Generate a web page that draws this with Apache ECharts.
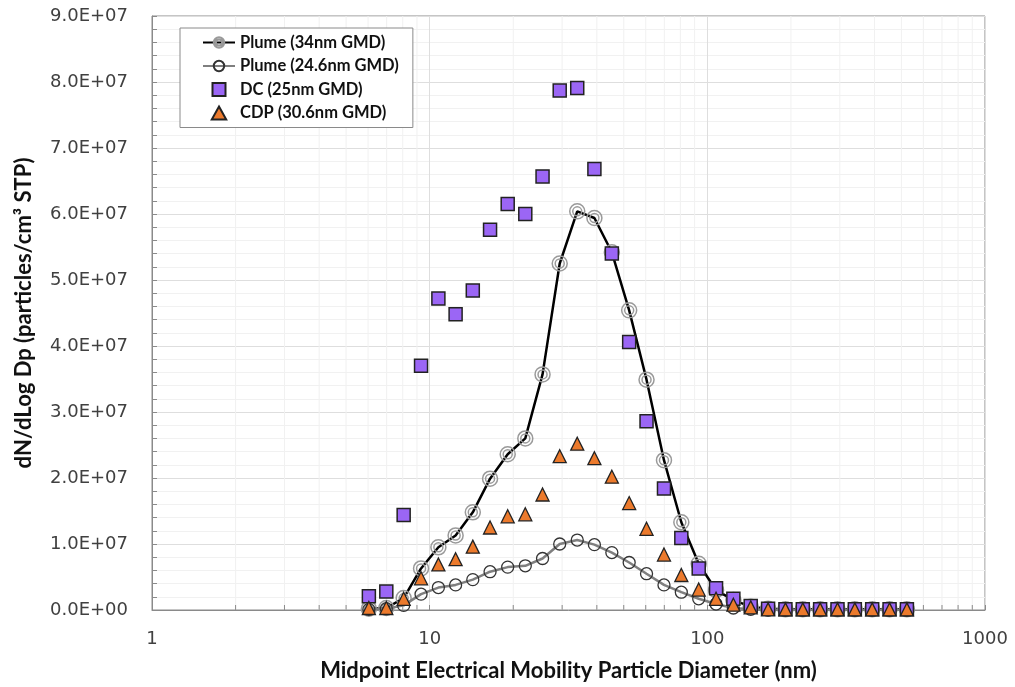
<!DOCTYPE html>
<html>
<head>
<meta charset="utf-8">
<title>Particle size distribution</title>
<script src="https://cdn.jsdelivr.net/npm/echarts@6/dist/echarts.min.js"></script>
<style>
    html, body { margin: 0; padding: 0; background: #fff; }
    #main { width: 1015px; height: 687px; }
</style>
</head>
<body>
<div id="main"></div>
<script>
// bin midpoints (nm)
var diameters = [6.04, 6.98, 8.06, 9.31, 10.75, 12.4, 14.3, 16.5, 19.1, 22.1, 25.5, 29.4, 34.0, 39.2, 45.3, 52.3,
    60.4, 69.8, 80.6, 93.1, 107.5, 124.1, 143.3, 165.5, 191.1, 220.7, 254.8, 294.3, 339.8, 392.4, 453.2, 523.3];

// dN/dLogDp values
var plume34 = [2e5, 3e5, 1.8e6, 6.3e6, 9.5e6, 1.13e7, 1.48e7, 1.99e7, 2.36e7, 2.60e7, 3.57e7, 5.25e7, 6.04e7, 5.94e7, 5.42e7, 4.54e7,
    3.49e7, 2.27e7, 1.33e7, 7.0e6, 3.0e6, 1.5e6, 5e5, 2e5, 1e5, 1e5, 1e5, 1e5, 1e5, 1e5, 1e5, 1e5];
var plume246 = [1e5, 2e5, 7e5, 2.4e6, 3.4e6, 3.8e6, 4.6e6, 5.8e6, 6.5e6, 6.7e6, 7.8e6, 1.00e7, 1.06e7, 9.9e6, 8.7e6, 7.2e6,
    5.5e6, 3.8e6, 2.7e6, 1.7e6, 9e5, 3e5, 1e5, 0, 0, 0, 0, 0, 0, 0, 0, 0];
var dc = [2.1e6, 2.8e6, 1.44e7, 3.70e7, 4.72e7, 4.48e7, 4.84e7, 5.76e7, 6.15e7, 6.00e7, 6.57e7, 7.87e7, 7.91e7, 6.68e7, 5.40e7, 4.06e7,
    2.86e7, 1.84e7, 1.09e7, 6.3e6, 3.3e6, 1.7e6, 6e5, 2e5, 1e5, 1e5, 1e5, 1e5, 1e5, 1e5, 1e5, 1e5];
var cdp = [3e5, 3e5, 1.7e6, 4.8e6, 6.9e6, 7.7e6, 9.6e6, 1.25e7, 1.42e7, 1.45e7, 1.75e7, 2.33e7, 2.52e7, 2.30e7, 2.02e7, 1.62e7,
    1.23e7, 8.4e6, 5.3e6, 3.1e6, 1.7e6, 8e5, 4e5, 1e5, 1e5, 1e5, 1e5, 1e5, 1e5, 1e5, 1e5, 1e5];

// minor grid positions on the log axis
var xMinor = [2, 3, 4, 5, 6, 7, 8, 9, 20, 30, 40, 50, 60, 70, 80, 90, 200, 300, 400, 500, 600, 700, 800, 900];

var names = ['Plume (34nm GMD)', 'Plume (24.6nm GMD)', 'DC (25nm GMD)', 'CDP (30.6nm GMD)'];

function pairs(ys) {
    var out = [];
    for (var i = 0; i < diameters.length; i++) out.push([diameters[i], ys[i]]);
    return out;
}

function sci(v) {
    var s = v.toExponential(1).toUpperCase();
    return s.replace(/E([+-])(\d+)$/, function (m, sg, e) {
        return 'E' + sg + (e.length < 2 ? '0' + e : e);
    });
}

var ringPath = 'path://M10,0A10,10 0 1,1 10,20A10,10 0 1,1 10,0ZM10,4A6,6 0 1,1 10,16A6,6 0 1,1 10,4Z';
var squareIcon = 'path://M0,0L10,0L10,10L0,10Z';
var triIcon = 'path://M5,0L10,9L0,9Z';

var myChart = echarts.init(document.getElementById('main'));

var option = {
    backgroundColor: '#fff',
    animation: false,
    grid: { left: 152, right: 30, top: 16, bottom: 76, show: true, borderColor: '#8a8a8a', borderWidth: 1 },
    legend: {
        data: [
            { name: names[0] },
            { name: names[1] },
            { name: names[2], icon: squareIcon },
            { name: names[3], icon: triIcon }
        ],
        orient: 'vertical',
        left: 180, top: 28,
        padding: [6, 14, 6, 22],
        itemGap: 6.5,
        itemWidth: 32, itemHeight: 13,
        symbolKeepAspect: true,
        backgroundColor: '#fff',
        borderColor: '#8a8a8a', borderWidth: 1,
        textStyle: { fontFamily: 'Lato', fontWeight: 'bold', fontSize: 16.5, color: '#111' }
    },
    xAxis: {
        type: 'log', logBase: 10, min: 1, max: 1000,
        name: 'Midpoint Electrical Mobility Particle Diameter (nm)',
        nameLocation: 'middle', nameGap: 50,
        nameTextStyle: { fontFamily: 'Lato', fontWeight: 'bold', fontSize: 22, color: '#111' },
        axisLine: { lineStyle: { color: '#8a8a8a' } },
        axisTick: { inside: true, length: 5, lineStyle: { color: '#8a8a8a' } },
        axisLabel: { margin: 20, fontFamily: 'DejaVu Sans', fontSize: 18, color: '#404040',
            formatter: function (v) { return String(v); } },
        splitLine: { show: true, lineStyle: { color: '#dedede' } }
    },
    yAxis: {
        type: 'value', min: 0, max: 9e7, interval: 1e7,
        name: 'dN/dLog Dp (particles/cm\u00b3 STP)',
        nameLocation: 'middle', nameGap: 117,
        nameTextStyle: { fontFamily: 'Lato', fontWeight: 'bold', fontSize: 22, color: '#111' },
        axisLine: { show: true, lineStyle: { color: '#8a8a8a' } },
        axisTick: { show: true, inside: true, length: 5, lineStyle: { color: '#8a8a8a' } },
        minorTick: { show: true, splitNumber: 5, length: 5, lineStyle: { color: '#8a8a8a' } },
        minorSplitLine: { show: true, lineStyle: { color: '#f1f1f1' } },
        axisLabel: { margin: 24, fontFamily: 'DejaVu Sans', fontSize: 18, color: '#404040', formatter: sci },
        splitLine: { lineStyle: { color: '#dedede' } }
    },
    series: [
        {
            // minor log grid lines + inside ticks
            type: 'custom', silent: true, z: 1,
            data: xMinor.map(function (v) { return [v, 1]; }),
            renderItem: function (params, api) {
                var x = api.coord([api.value(0), api.value(1)])[0];
                var cs = params.coordSys;
                var yb = cs.y + cs.height;
                return {
                    type: 'group', children: [
                        { type: 'line', shape: { x1: x, y1: cs.y, x2: x, y2: yb }, style: { stroke: '#f1f1f1', lineWidth: 1 } },
                        { type: 'line', shape: { x1: x, y1: yb, x2: x, y2: yb - 5 }, style: { stroke: '#8a8a8a', lineWidth: 1 } }
                    ]
                };
            }
        },
        {
            name: names[0], type: 'line', z: 3,
            data: pairs(plume34),
            symbol: ringPath, symbolSize: 15,
            lineStyle: { color: '#000', width: 2.5 },
            itemStyle: { color: 'rgba(255,255,255,0)', borderColor: '#9a9a9a', borderWidth: 1.5 }
        },
        {
            name: names[1], type: 'line', z: 4,
            data: pairs(plume246),
            symbol: 'circle', symbolSize: 12,
            lineStyle: { color: '#7f7f7f', width: 2.5 },
            itemStyle: { color: 'rgba(255,255,255,0)', borderColor: '#333', borderWidth: 1.3 }
        },
        {
            name: names[2], type: 'scatter', z: 5,
            data: pairs(dc),
            symbol: 'rect', symbolSize: 13,
            itemStyle: { color: '#9b66f5', borderColor: '#222', borderWidth: 1.5, opacity: 1 }
        },
        {
            name: names[3], type: 'scatter', z: 6,
            data: pairs(cdp),
            symbol: 'triangle', symbolSize: 13,
            itemStyle: { color: '#ec7a2c', borderColor: '#222', borderWidth: 1.3, opacity: 1 }
        }
    ]
};

myChart.setOption(option);
</script>
</body>
</html>
